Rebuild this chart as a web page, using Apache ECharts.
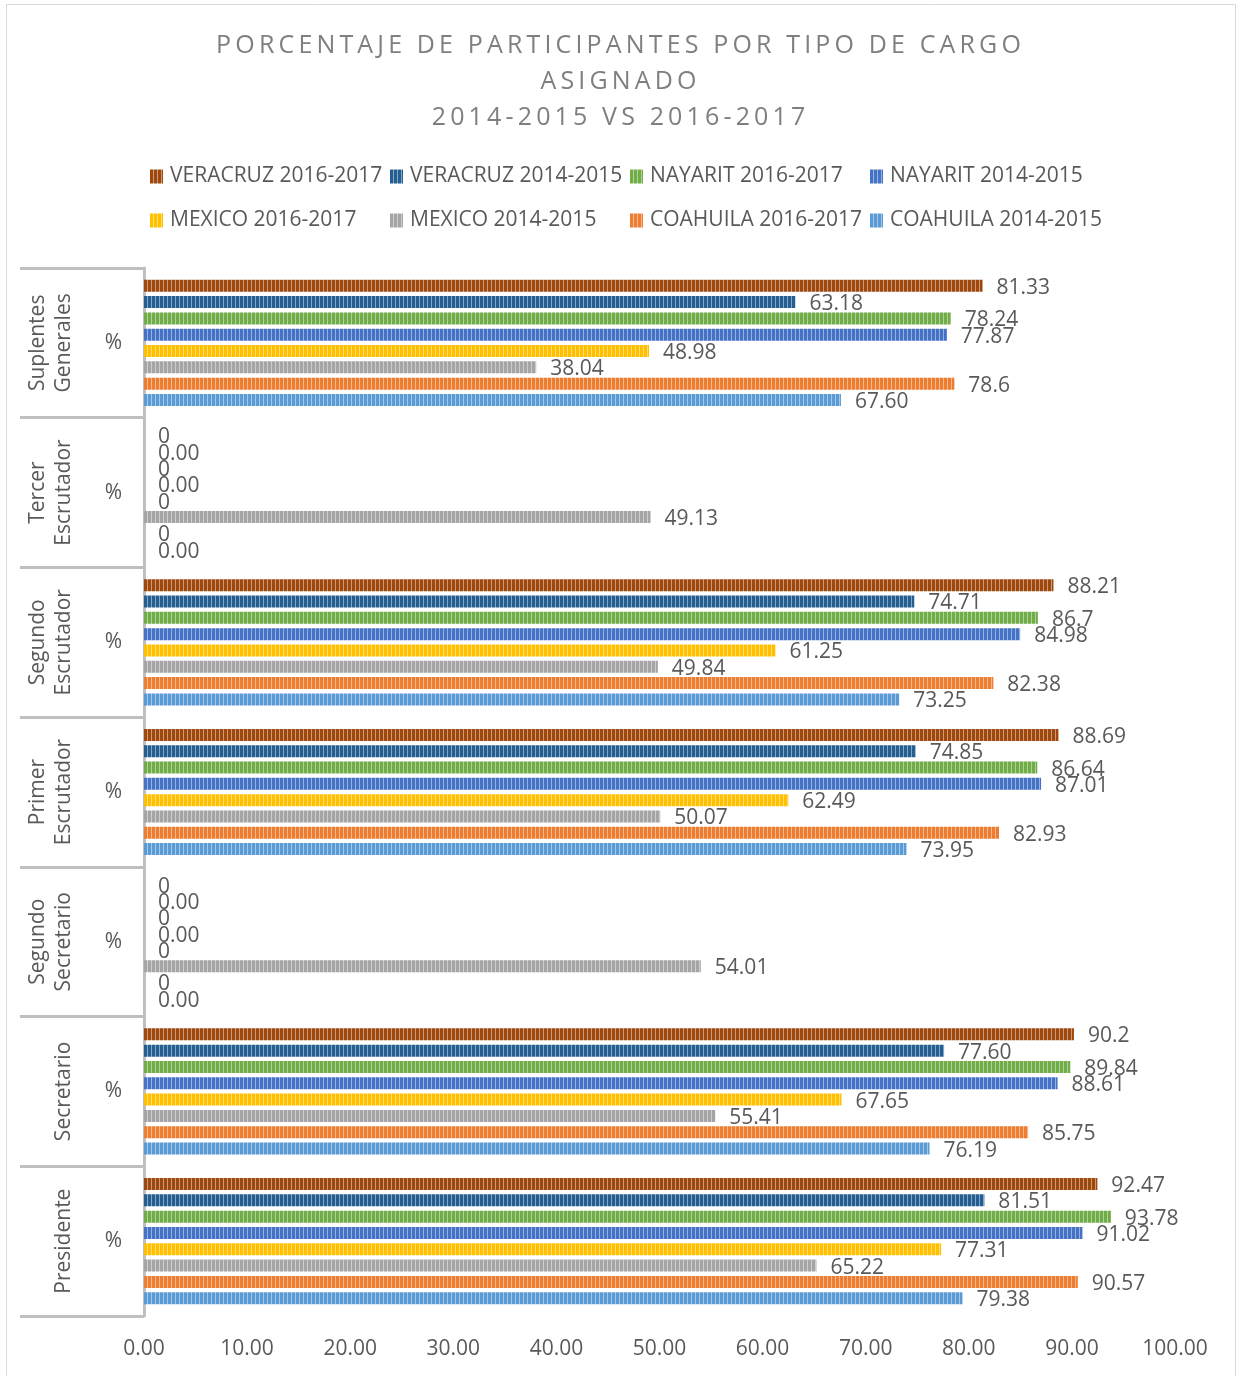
<!DOCTYPE html>
<html>
<head>
<meta charset="utf-8">
<script src="https://cdn.jsdelivr.net/npm/echarts@6/dist/echarts.min.js"></script>
<style>
html,body{margin:0;padding:0;background:#fff;}
#chart{width:1237px;height:1376px;}
</style>
</head>
<body>
<div id="chart"></div>
<script>
// Categories, bottom to top (ECharts category order)
const categories = ['Presidente', 'Secretario', 'Segundo\nSecretario', 'Primer\nEscrutador', 'Segundo\nEscrutador', 'Tercer\nEscrutador', 'Suplentes\nGenerales'];
const innerLabel = '%';
const xTicks = [0, 10, 20, 30, 40, 50, 60, 70, 80, 90, 100];

// Series values (same order as categories)
const veracruz1617 = [92.47, 90.2, 0, 88.69, 88.21, 0, 81.33];
const veracruz1415 = [81.51, 77.60, 0, 74.85, 74.71, 0, 63.18];
const nayarit1617  = [93.78, 89.84, 0, 86.64, 86.7, 0, 78.24];
const nayarit1415  = [91.02, 88.61, 0, 87.01, 84.98, 0, 77.87];
const mexico1617   = [77.31, 67.65, 0, 62.49, 61.25, 0, 48.98];
const mexico1415   = [65.22, 55.41, 54.01, 50.07, 49.84, 49.13, 38.04];
const coahuila1617 = [90.57, 85.75, 0, 82.93, 82.38, 0, 78.6];
const coahuila1415 = [79.38, 76.19, 0, 73.95, 73.25, 0, 67.60];

// Series, top to bottom inside each group
const seriesNames = ['VERACRUZ 2016-2017', 'VERACRUZ 2014-2015', 'NAYARIT 2016-2017', 'NAYARIT 2014-2015', 'MEXICO 2016-2017', 'MEXICO 2014-2015', 'COAHUILA 2016-2017', 'COAHUILA 2014-2015'];
const seriesValues = [veracruz1617, veracruz1415, nayarit1617, nayarit1415, mexico1617, mexico1415, coahuila1617, coahuila1415];
const seriesColors = ['#9e480e', '#255e91', '#70ad47', '#4472c4', '#ffc000', '#a5a5a5', '#ed7d31', '#5b9bd5'];

const titleText = 'PORCENTAJE DE PARTICIPANTES POR TIPO DE CARGO\nASIGNADO\n2014-2015 VS 2016-2017';

function mix(hex, t) {
  const n = parseInt(hex.slice(1), 16);
  const r = (n >> 16) & 255, g = (n >> 8) & 255, b = n & 255;
  const f = c => Math.round(c + (255 - c) * t);
  return 'rgb(' + f(r) + ',' + f(g) + ',' + f(b) + ')';
}
function makePattern(color) {
  const c = document.createElement('canvas');
  c.width = 4; c.height = 8;
  const ctx = c.getContext('2d');
  ctx.fillStyle = mix(color, 0.45);
  ctx.fillRect(0, 0, 4, 8);
  ctx.fillStyle = color;
  ctx.fillRect(0, 0, 3, 8);
  return { image: c, repeat: 'repeat' };
}
function spaced(s) {
  return s.split('\n').map(line => line.split('').join('\u2009')).join('\n');
}

const FONT = '"Open Sans", "Noto Sans", sans-serif';
const TXT = '#595959';
const FS = 21;

const series = seriesNames.map((name, i) => ({
  name: name,
  type: 'bar',
  yAxisIndex: 0,
  barWidth: 12,
  barGap: '36%',
  data: seriesValues[i],
  itemStyle: {
    color: makePattern(seriesColors[i]),
    borderWidth: 0
  },
  label: {
    show: true,
    position: 'right',
    distance: 14,
    offset: [0, 2],
    color: TXT,
    fontFamily: FONT,
    fontSize: FS,
    formatter: p => name.indexOf('2016-2017') >= 0 ? String(p.value) : p.value.toFixed(2)
  }
}));

const legendCols = [
  ['VERACRUZ 2016-2017', 'MEXICO 2016-2017'],
  ['VERACRUZ 2014-2015', 'MEXICO 2014-2015'],
  ['NAYARIT 2016-2017', 'COAHUILA 2016-2017'],
  ['NAYARIT 2014-2015', 'COAHUILA 2014-2015']
];
const legendLeft = [150, 390, 630, 870];

const chart = echarts.init(document.getElementById('chart'), null, { renderer: 'canvas' });
chart.setOption({
  animation: false,
  backgroundColor: '#ffffff',
  title: {
    text: spaced(titleText),
    left: 'center',
    top: 23,
    textStyle: { color: '#7f7f7f', fontFamily: FONT, fontSize: 25, fontWeight: 'normal', lineHeight: 36 }
  },
  legend: legendCols.map((col, i) => ({
    data: col,
    orient: 'vertical',
    left: legendLeft[i],
    top: 166,
    icon: 'rect',
    itemWidth: 13,
    itemHeight: 14,
    itemGap: 23,
    padding: 0,
    textStyle: { color: TXT, fontFamily: FONT, fontSize: FS, padding: [0, 0, 0, 2] }
  })),
  grid: { left: 144, right: 62, top: 268, bottom: 60, containLabel: false },
  xAxis: {
    type: 'value',
    min: 0, max: 100, interval: 10,
    axisLine: { show: false },
    axisTick: { show: false },
    splitLine: { show: false },
    axisLabel: { color: TXT, fontFamily: FONT, fontSize: FS, margin: 23, formatter: v => v.toFixed(2) }
  },
  yAxis: [
    {
      type: 'category',
      data: categories,
      axisLine: { show: true, lineStyle: { color: '#bfbfbf', width: 3 } },
      axisTick: { show: true, length: 124, lineStyle: { color: '#bfbfbf', width: 3 } },
      axisLabel: { formatter: () => innerLabel, color: TXT, fontFamily: FONT, fontSize: FS, margin: 22 }
    },
    {
      type: 'category',
      data: categories,
      position: 'left',
      axisLine: { show: false },
      axisTick: { show: false },
      axisLabel: { rotate: 90, color: TXT, fontFamily: FONT, fontSize: FS, lineHeight: 26, margin: 67 }
    }
  ],
  graphic: [{
    type: 'rect',
    shape: { x: 6.5, y: 4.5, width: 1229, height: 1400 },
    style: { fill: 'none', stroke: '#d9d9d9', lineWidth: 1 },
    silent: true
  }],
  series: series
});
</script>
</body>
</html>
